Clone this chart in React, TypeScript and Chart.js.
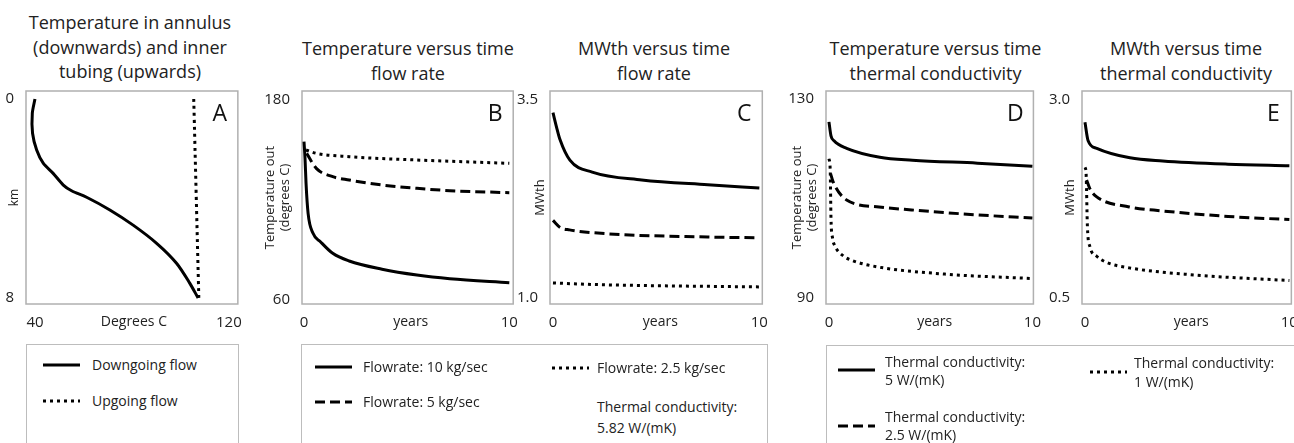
import React, { useEffect, useRef } from 'react';
import { Chart, registerables } from 'chart.js';
Chart.register(...registerables);

const FONT = '"Open Sans", "Noto Sans", sans-serif';

// ---------- Panel A: temperature vs depth ----------
const aDownTemp = [40, 38.9, 39.0, 40.7, 43.4, 47.5, 51.7, 55.1, 61.3, 70.9, 80.5, 90.2, 98.4, 103.9, 107.3];
const aDownDepth = [0, 0.58, 1.38, 2.05, 2.58, 2.99, 3.46, 3.69, 3.95, 4.46, 5.07, 5.8, 6.6, 7.41, 8.0];
const aUpTemp = [105.5, 107.6];
const aUpDepth = [0, 8];
const aXTicks = [40, 80.8, 120];
const aXTickLabels = ['40', 'Degrees C', '120'];
const aYTicks = [0, 8];
const aYTickLabels = ['0', '8'];

// ---------- Panel B: temperature vs time, flow rate ----------
const bYears10 = [0, 0.05, 0.1, 0.2, 0.44, 0.8, 1.4, 2.2, 3.8, 5.5, 7.1, 10];
const bTemp10 = [155, 145, 130, 112, 100, 95, 88, 83.4, 78.5, 75, 72.8, 70.4];
const bYears5 = [0.13, 0.6, 1.4, 2.2, 3.8, 5.5, 7.1, 10];
const bTemp5 = [148, 139, 134, 132, 129, 127, 125.6, 124.4];
const bYears25 = [0.1, 0.6, 2.2, 5.5, 10];
const bTemp25 = [150, 148, 146, 144, 142];
const bYTicks = [60, 180];
const bYTickLabels = ['60', '180'];

// ---------- Panel C: MWth vs time, flow rate ----------
const cYears10 = [0, 0.2, 0.34, 0.82, 1.9, 4.3, 7.5, 10];
const cMw10 = [3.34, 3.13, 3.0, 2.74, 2.59, 2.49, 2.43, 2.39];
const cYears5 = [0, 0.35, 0.8, 2.7, 7.5, 10];
const cMw5 = [1.98, 1.89, 1.86, 1.81, 1.77, 1.76];
const cYears25 = [0, 2, 5, 10];
const cMw25 = [1.19, 1.17, 1.155, 1.14];
const cYTicks = [1.0, 3.5];
const cYTickLabels = ['1.0', '3.5'];

// ---------- Panel D: temperature vs time, thermal conductivity ----------
const dYears5 = [0, 0.1, 0.25, 0.87, 2.5, 4.1, 7.3, 10];
const dTemp5 = [125.4, 122.6, 121.6, 120.1, 118.3, 117.7, 117.1, 116.5];
const dYears25 = [0.08, 0.2, 0.87, 2.46, 4.06, 7.3, 10];
const dTemp25 = [115, 113.4, 109.7, 108.3, 107.7, 106.7, 106.1];
const dYears1 = [0, 0.06, 0.1, 0.18, 0.29, 0.69, 1.17, 2.46, 5.7, 10];
const dTemp1 = [118, 116, 106, 102, 100.5, 98.5, 97.5, 96.2, 94.8, 93.9];
const dYTicks = [90, 130];
const dYTickLabels = ['90', '130'];

// ---------- Panel E: MWth vs time, thermal conductivity ----------
const eYears5 = [0, 0.15, 0.58, 2.2, 3.8, 7, 10];
const eMw5 = [2.72, 2.49, 2.39, 2.27, 2.23, 2.19, 2.17];
const eYears25 = [0.08, 0.24, 0.56, 2.17, 3.77, 7, 10];
const eMw25 = [1.99, 1.88, 1.78, 1.65, 1.6, 1.53, 1.49];
const eYears1 = [0, 0.05, 0.12, 0.24, 0.56, 1.05, 2.17, 5.4, 10];
const eMw1 = [2.15, 2.1, 1.4, 1.15, 1.03, 0.95, 0.88, 0.79, 0.72];
const eYTicks = [0.5, 3.0];
const eYTickLabels = ['0.5', '3.0'];

const timeXTicks = [0, 5.2, 10];
const timeXTickLabels = ['0', 'years', '10'];

// ---------- Titles & legends ----------
const titleA = ['Temperature in annulus', '(downwards) and inner', 'tubing (upwards)'];
const titleB = ['Temperature versus time', 'flow rate'];
const titleC = ['MWth versus time', 'flow rate'];
const titleD = ['Temperature versus time', 'thermal conductivity'];
const titleE = ['MWth versus time', 'thermal conductivity'];

const legendALabels = ['Downgoing flow', 'Upgoing flow'];
const legendBCLabels = ['Flowrate: 10 kg/sec', 'Flowrate: 5 kg/sec', 'Flowrate: 2.5 kg/sec'];
const legendBCNote = ['Thermal conductivity:', '5.82 W/(mK)'];
const legendDELabels = [
  ['Thermal conductivity:', '5 W/(mK)'],
  ['Thermal conductivity:', '2.5 W/(mK)'],
  ['Thermal conductivity:', '1 W/(mK)'],
];

type LineStyle = 'solid' | 'dashed' | 'dotted';
type Series = { xs: number[]; ys: number[]; style: LineStyle };
type Panel = {
  letter: string;
  boxLeft: number;
  boxWidth: number;
  xMin: number; xMax: number; yMin: number; yMax: number;
  reverseY?: boolean;
  xTicks: number[]; xTickLabels: string[];
  yTicks: number[]; yTickLabels: string[];
  yTitle: string | string[]; yTitleSize: number; yTitleX: number;
  monotone: boolean;
  series: Series[];
};

const dashFor = (s: LineStyle) => (s === 'dashed' ? [10, 5] : s === 'dotted' ? [3, 4] : []);

const BOX_TOP = 91;
const BOX_BOTTOM = 304;
const CANVAS_H = 340;
const LEFT_MARGIN = 60;
const Y_AXIS_W = 50;
const RIGHT_MARGIN = 6;

const panels: Panel[] = [
  {
    letter: 'A', boxLeft: 26, boxWidth: 212,
    xMin: 36.3, xMax: 123.7, yMin: -0.32, yMax: 8.24, reverseY: true,
    xTicks: aXTicks, xTickLabels: aXTickLabels, yTicks: aYTicks, yTickLabels: aYTickLabels,
    yTitle: 'km', yTitleSize: 12, yTitleX: 15, monotone: false,
    series: [
      { xs: aDownTemp, ys: aDownDepth, style: 'solid' },
      { xs: aUpTemp, ys: aUpDepth, style: 'dotted' },
    ],
  },
  {
    letter: 'B', boxLeft: 302, boxWidth: 212,
    xMin: -0.097, xMax: 10.19, yMin: 57.6, yMax: 185.4,
    xTicks: timeXTicks, xTickLabels: timeXTickLabels, yTicks: bYTicks, yTickLabels: bYTickLabels,
    yTitle: ['Temperature out', '(degrees C)'], yTitleSize: 13, yTitleX: 270, monotone: true,
    series: [
      { xs: bYears10, ys: bTemp10, style: 'solid' },
      { xs: bYears5, ys: bTemp5, style: 'dashed' },
      { xs: bYears25, ys: bTemp25, style: 'dotted' },
    ],
  },
  {
    letter: 'C', boxLeft: 550, boxWidth: 214,
    xMin: -0.144, xMax: 10.144, yMin: 0.924, yMax: 3.614,
    xTicks: timeXTicks, xTickLabels: timeXTickLabels, yTicks: cYTicks, yTickLabels: cYTickLabels,
    yTitle: 'MWth', yTitleSize: 13, yTitleX: 540, monotone: true,
    series: [
      { xs: cYears10, ys: cMw10, style: 'solid' },
      { xs: cYears5, ys: cMw5, style: 'dashed' },
      { xs: cYears25, ys: cMw25, style: 'dotted' },
    ],
  },
  {
    letter: 'D', boxLeft: 826, boxWidth: 211,
    xMin: -0.145, xMax: 10.05, yMin: 88.79, yMax: 131.61,
    xTicks: timeXTicks, xTickLabels: timeXTickLabels, yTicks: dYTicks, yTickLabels: dYTickLabels,
    yTitle: ['Temperature out', '(degrees C)'], yTitleSize: 13, yTitleX: 797, monotone: true,
    series: [
      { xs: dYears5, ys: dTemp5, style: 'solid' },
      { xs: dYears25, ys: dTemp25, style: 'dashed' },
      { xs: dYears1, ys: dTemp1, style: 'dotted' },
    ],
  },
  {
    letter: 'E', boxLeft: 1082, boxWidth: 212,
    xMin: -0.145, xMax: 10.097, yMin: 0.424, yMax: 3.114,
    xTicks: timeXTicks, xTickLabels: timeXTickLabels, yTicks: eYTicks, yTickLabels: eYTickLabels,
    yTitle: 'MWth', yTitleSize: 13, yTitleX: 1070, monotone: true,
    series: [
      { xs: eYears5, ys: eMw5, style: 'solid' },
      { xs: eYears25, ys: eMw25, style: 'dashed' },
      { xs: eYears1, ys: eMw1, style: 'dotted' },
    ],
  },
];

const framePlugin = {
  id: 'frameBox',
  beforeDatasetsDraw(chart: any, _args: any, opts: any) {
    const { ctx, chartArea } = chart;
    const { left, top, right, bottom } = chartArea;
    ctx.save();
    ctx.strokeStyle = '#b0b0b0';
    ctx.lineWidth = 1.5;
    ctx.strokeRect(left, top, right - left, bottom - top);
    ctx.fillStyle = '#111';
    ctx.font = `23px ${FONT}`;
    ctx.textAlign = 'center';
    ctx.textBaseline = 'middle';
    ctx.fillText(opts.letter, right - 18, top + 23);
    ctx.restore();
  },
};

function PanelChart({ p }: { p: Panel }) {
  const ref = useRef<HTMLCanvasElement | null>(null);
  useEffect(() => {
    if (!ref.current) return;
    const titleLH = p.yTitleSize * 1.2;
    const axisLeft = p.boxLeft - Y_AXIS_W;
    const chart = new Chart(ref.current, {
      type: 'line',
      data: {
        datasets: p.series.map((s) => ({
          data: s.xs.map((x, i) => ({ x, y: s.ys[i] })),
          borderColor: '#000',
          borderWidth: 3,
          borderDash: dashFor(s.style),
          borderCapStyle: 'butt',
          pointRadius: 0,
          fill: false,
          tension: p.monotone ? 0 : 0.3,
          cubicInterpolationMode: p.monotone ? 'monotone' : 'default',
        })),
      },
      options: {
        responsive: false,
        animation: false,
        events: [],
        layout: { padding: { left: LEFT_MARGIN - Y_AXIS_W, top: BOX_TOP, right: RIGHT_MARGIN, bottom: 0 } },
        plugins: {
          legend: { display: false },
          tooltip: { enabled: false },
          frameBox: { letter: p.letter },
        } as any,
        scales: {
          x: {
            type: 'linear',
            min: p.xMin,
            max: p.xMax,
            grid: { display: false },
            border: { display: false },
            ticks: {
              autoSkip: false,
              maxRotation: 0,
              padding: 2,
              color: '#222',
              font: (ctx: any) => ({ family: FONT, size: ctx.index === 1 ? 14 : 15 }),
              callback: (_v: any, i: number) => p.xTickLabels[i],
            },
            afterBuildTicks: (ax: any) => { ax.ticks = p.xTicks.map((v) => ({ value: v })); },
            afterFit: (ax: any) => { ax.height = CANVAS_H - BOX_BOTTOM; },
          },
          y: {
            type: 'linear',
            min: p.yMin,
            max: p.yMax,
            reverse: !!p.reverseY,
            grid: { display: false },
            border: { display: false },
            title: {
              display: true,
              text: p.yTitle,
              color: '#222',
              padding: { top: p.yTitleX - axisLeft - titleLH / 2, bottom: 0 },
              font: { family: FONT, size: p.yTitleSize },
            },
            ticks: {
              autoSkip: false,
              padding: 4,
              color: '#222',
              font: { family: FONT, size: 15 },
              callback: (_v: any, i: number) => p.yTickLabels[i],
            },
            afterBuildTicks: (ax: any) => { ax.ticks = p.yTicks.map((v) => ({ value: v })); },
            afterFit: (ax: any) => { ax.width = Y_AXIS_W; },
          },
        },
      } as any,
      plugins: [framePlugin as any],
    });
    return () => chart.destroy();
  }, [p]);
  const w = LEFT_MARGIN + p.boxWidth + RIGHT_MARGIN;
  return (
    <canvas
      ref={ref}
      width={w}
      height={CANVAS_H}
      style={{ position: 'absolute', left: p.boxLeft - LEFT_MARGIN, top: 0, width: w, height: CANVAS_H }}
    />
  );
}

function Title({ lines, center, top }: { lines: string[]; center: number; top: number }) {
  return (
    <div
      style={{
        position: 'absolute', left: center - 150, width: 300, top, textAlign: 'center',
        fontFamily: FONT, fontSize: 18, lineHeight: '24.5px', color: '#222', whiteSpace: 'nowrap',
      }}
    >
      {lines.map((l, i) => <div key={i}>{l}</div>)}
    </div>
  );
}

function Sample({ style, x, y }: { style: LineStyle; x: number; y: number }) {
  const d = dashFor(style);
  return (
    <svg style={{ position: 'absolute', left: x, top: y - 3 }} width={38} height={6}>
      <line x1={0} y1={3} x2={37} y2={3} stroke="#000" strokeWidth={3} strokeDasharray={d.length ? d.join(' ') : undefined} />
    </svg>
  );
}

// y = vertical centre of the first text line
function LText({ lines, x, y, size, lh }: { lines: string[]; x: number; y: number; size: number; lh: number }) {
  return (
    <div style={{ position: 'absolute', left: x, top: y - lh / 2, fontFamily: FONT, fontSize: size, lineHeight: `${lh}px`, color: '#222', whiteSpace: 'nowrap' }}>
      {lines.map((l, i) => <div key={i}>{l}</div>)}
    </div>
  );
}

function LBox({ left, width, top }: { left: number; width: number; top: number }) {
  return <div style={{ position: 'absolute', left, top, width, height: 140, border: '1px solid #bdbdbd', boxSizing: 'border-box' }} />;
}

export default function App() {
  const centers = panels.map((p) => p.boxLeft + p.boxWidth / 2);
  return (
    <div style={{ position: 'absolute', left: 0, top: 0, width: 1294, height: 443, overflow: 'hidden', background: '#fff' }}>
      <Title lines={titleA} center={centers[0] - 2} top={10} />
      <Title lines={titleB} center={centers[1]} top={36} />
      <Title lines={titleC} center={centers[2] - 3} top={36} />
      <Title lines={titleD} center={centers[3] + 4} top={36} />
      <Title lines={titleE} center={centers[4] - 2} top={36} />
      {panels.map((p) => <PanelChart key={p.letter} p={p} />)}

      <LBox left={26} width={213} top={344} />
      <Sample style="solid" x={43} y={365} />
      <LText lines={[legendALabels[0]]} x={92} y={365} size={14} lh={18} />
      <Sample style="dotted" x={43} y={401} />
      <LText lines={[legendALabels[1]]} x={92} y={401} size={14} lh={18} />

      <LBox left={301} width={467} top={344} />
      <Sample style="solid" x={315} y={367} />
      <LText lines={[legendBCLabels[0]]} x={363} y={367} size={14} lh={18} />
      <Sample style="dashed" x={315} y={402} />
      <LText lines={[legendBCLabels[1]]} x={363} y={402} size={14} lh={18} />
      <Sample style="dotted" x={552} y={368} />
      <LText lines={[legendBCLabels[2]]} x={597} y={368} size={14} lh={18} />
      <LText lines={legendBCNote} x={597} y={406} size={14} lh={21} />

      <LBox left={826} width={480} top={345} />
      <Sample style="solid" x={838} y={370} />
      <LText lines={legendDELabels[0]} x={885} y={362} size={14} lh={18} />
      <Sample style="dashed" x={838} y={426} />
      <LText lines={legendDELabels[1]} x={885} y={417} size={14} lh={18} />
      <Sample style="dotted" x={1090} y={372} />
      <LText lines={legendDELabels[2]} x={1134} y={362} size={14} lh={19} />
    </div>
  );
}
